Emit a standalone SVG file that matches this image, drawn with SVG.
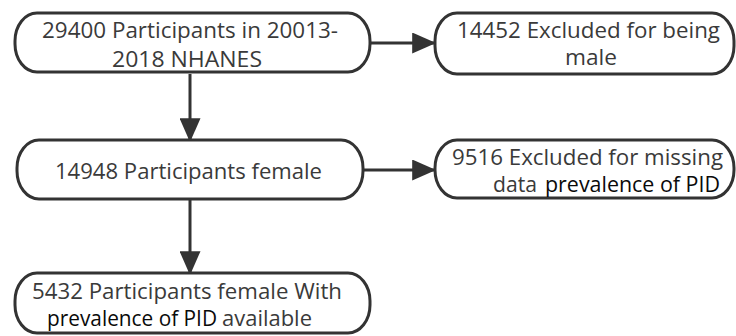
<svg xmlns="http://www.w3.org/2000/svg" width="736" height="336" viewBox="0 0 736 336">
<style>
.box{fill:#fff;stroke:#333;stroke-width:3}
.t{font-family:"Open Sans","Noto Sans",sans-serif;font-size:21px;fill:#3a3a3a}
.k{fill:#0a0a0a}
.c{stroke:#333;stroke-width:3;fill:none}
</style>
<defs>
<marker id="ah" markerWidth="8" markerHeight="7" refX="7.6" refY="3.5" orient="auto" markerUnits="strokeWidth">
<path d="M0,0 L8,3.5 L0,7 z" fill="#333"/>
</marker>
</defs>
<g id="connectors">
<line class="c" x1="371" y1="43" x2="435" y2="43" marker-end="url(#ah)"/>
<line class="c" x1="364" y1="170" x2="435" y2="170" marker-end="url(#ah)"/>
<line class="c" x1="190" y1="74" x2="190" y2="141" marker-end="url(#ah)"/>
<line class="c" x1="190" y1="200" x2="190" y2="274" marker-end="url(#ah)"/>
</g>
<g id="n1">
<rect class="box" x="15" y="13" width="355" height="59" rx="22" ry="28"/>
<text class="t" x="42" y="38" textLength="296" lengthAdjust="spacingAndGlyphs">29400 Participants in 20013-</text>
<text class="t" x="112" y="67" textLength="150" lengthAdjust="spacingAndGlyphs">2018 NHANES</text>
</g>
<g id="n2">
<rect class="box" x="435" y="13" width="299" height="61" rx="22" ry="28"/>
<text class="t" x="457" y="38" textLength="263" lengthAdjust="spacingAndGlyphs">14452 Excluded for being</text>
<text class="t" x="565" y="65" textLength="52" lengthAdjust="spacingAndGlyphs">male</text>
</g>
<g id="n3">
<rect class="box" x="17" y="140" width="346" height="59" rx="22" ry="28"/>
<text class="t" x="55" y="179" textLength="267" lengthAdjust="spacingAndGlyphs">14948 Participants female</text>
</g>
<g id="n4">
<rect class="box" x="435" y="140" width="299" height="58" rx="22" ry="28"/>
<text class="t" x="452" y="165" textLength="271" lengthAdjust="spacingAndGlyphs">9516 Excluded for missing</text>
<text class="t" x="493" y="192" textLength="44" lengthAdjust="spacingAndGlyphs">data</text>
<text class="t k" x="545" y="192" textLength="175" lengthAdjust="spacingAndGlyphs">prevalence of PID</text>
</g>
<g id="n5">
<rect class="box" x="15" y="273" width="355" height="60" rx="22" ry="28"/>
<text class="t" x="32" y="299" textLength="310" lengthAdjust="spacingAndGlyphs">5432 Participants female With</text>
<text class="t k" x="47" y="326" textLength="170" lengthAdjust="spacingAndGlyphs">prevalence of PID</text>
<text class="t" x="222" y="326" textLength="90" lengthAdjust="spacingAndGlyphs">available</text>
</g>
</svg>
